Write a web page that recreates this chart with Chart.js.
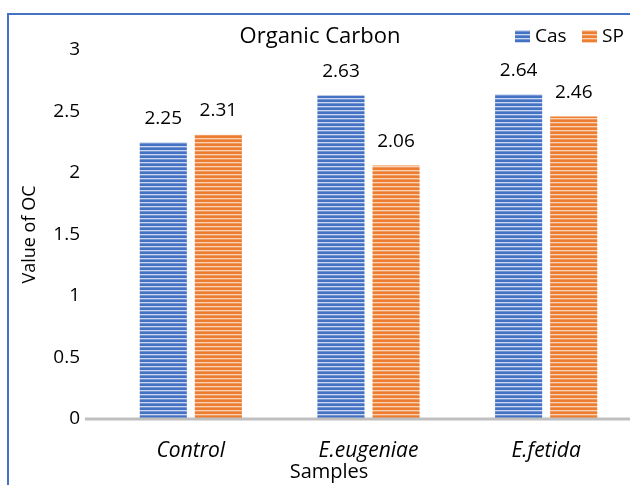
<!DOCTYPE html>
<html>
<head>
<meta charset="utf-8">
<script src="https://cdn.jsdelivr.net/npm/chart.js@4/dist/chart.umd.min.js"></script>
<style>
  html, body { margin: 0; padding: 0; background: #fff; overflow: hidden; width: 630px; height: 485px; }
  canvas { display: block; }
</style>
</head>
<body>
<canvas id="myChart" width="660" height="485"></canvas>
<script>
const ctx = document.getElementById('myChart').getContext('2d')

// data
const samples = ['Control', 'E.eugeniae', 'E.fetida']
const seriesNames = ['Cas', 'SP']
const casValues = [2.25, 2.63, 2.64]
const spValues = [2.31, 2.06, 2.46]
const yTicks = [0, 0.5, 1, 1.5, 2, 2.5, 3]

const FONT = "'Open Sans', 'DejaVu Sans', sans-serif"

// striped fills like the excel pattern
function stripes(base, light, mid) {
  const c = document.createElement('canvas')
  c.width = 4
  c.height = 4
  const g = c.getContext('2d')
  g.fillStyle = base; g.fillRect(0, 0, 4, 2)
  g.fillStyle = light; g.fillRect(0, 2, 4, 1)
  g.fillStyle = mid; g.fillRect(0, 3, 4, 1)
  return ctx.createPattern(c, 'repeat')
}
const bluePattern = stripes('#4472C4', '#C9D7F0', '#7594D0')
const orangePattern = stripes('#ED7D31', '#F9D3B8', '#F09A5E')

const extras = {
  id: 'extras',
  afterDatasetsDraw(chart) {
    const c = chart.ctx
    const yScale = chart.scales.y
    const y0 = yScale.getPixelForValue(0)
    c.save()
    // x axis line
    c.strokeStyle = '#BFBFBF'
    c.lineWidth = 3
    c.beginPath()
    c.moveTo(85, y0)
    c.lineTo(chart.width, y0)
    c.stroke()

    // value labels
    c.fillStyle = '#000'
    c.font = '19px ' + FONT
    c.textAlign = 'center'
    c.textBaseline = 'middle'
    chart.data.datasets.forEach((ds, i) => {
      chart.getDatasetMeta(i).data.forEach((bar, j) => {
        c.fillText(ds.data[j].toFixed(2), bar.x, bar.y - 24)
      })
    })

    // title
    c.font = '22px ' + FONT
    c.fillText('Organic Carbon', 320, 37)

    // x axis title
    c.font = '20px ' + FONT
    c.fillText('Samples', 329, 472)

    // legend
    c.font = '19px ' + FONT
    c.textAlign = 'left'
    const legendX = [515, 582]
    chart.data.datasets.forEach((ds, i) => {
      c.fillStyle = ds.backgroundColor
      c.fillRect(legendX[i], 30, 15, 13)
      c.fillStyle = '#000'
      c.fillText(ds.label, legendX[i] + 20, 37)
    })

    // chart border
    c.strokeStyle = '#4472C4'
    c.lineWidth = 2
    c.strokeRect(8, 14, chart.width + 20, chart.height + 20)
    c.restore()
  }
}

const data = {
  labels: samples,
  datasets: [{
    label: seriesNames[0],
    data: casValues,
    backgroundColor: bluePattern,
    categoryPercentage: 0.62,
    barPercentage: 0.855
  }, {
    label: seriesNames[1],
    data: spValues,
    backgroundColor: orangePattern,
    categoryPercentage: 0.62,
    barPercentage: 0.855
  }]
}

const config = {
  type: 'bar',
  data,
  options: {
    responsive: false,
    animation: false,
    devicePixelRatio: 1,
    layout: { padding: { left: 8, top: 50, right: 25, bottom: 0 } },
    plugins: {
      legend: { display: false },
      title: { display: false },
      tooltip: { enabled: false }
    },
    scales: {
      x: {
        grid: { display: false, drawTicks: false },
        border: { display: false },
        ticks: {
          padding: 19,
          color: '#000',
          font: { family: FONT, size: 21, style: 'italic' }
        },
        afterFit(scale) { scale.height = 66 }
      },
      y: {
        min: 0,
        max: 3,
        grid: { display: false, drawTicks: false },
        border: { display: false },
        afterBuildTicks(scale) { scale.ticks = yTicks.map(v => ({ value: v })) },
        ticks: {
          padding: 22,
          color: '#000',
          font: { family: FONT, size: 19 },
          callback: v => String(v)
        },
        title: {
          display: true,
          text: 'Value of OC',
          color: '#000',
          font: { family: FONT, size: 18 },
          padding: { top: 11, bottom: 0 }
        },
        afterFit(scale) { scale.width = 94 }
      }
    }
  },
  plugins: [extras]
}

const myChart = new Chart(ctx, config)
</script>
</body>
</html>
